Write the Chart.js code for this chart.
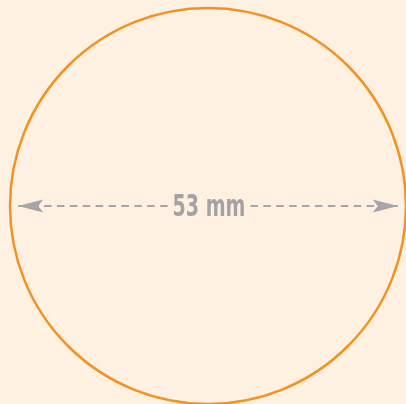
<!DOCTYPE html>
<html>
<head>
<meta charset="utf-8">
<script src="https://cdn.jsdelivr.net/npm/chart.js"></script>
<style>
  html, body { margin: 0; padding: 0; background: #fef1e2; }
  #c { display: block; }
</style>
</head>
<body>
<canvas id="c" width="406" height="404"></canvas>
<script>
  // values (mm)
  const diameters = [53];
  const sizeLabels = ["53 mm"];
  const arrowEnds = [-25.4, 25.4];

  // view window in mm
  const xRange = [-27.84, 26.5];
  const yRange = [-26.5, 27.57];

  const orange = "#f39220";
  const grey = "#a6a6a6";

  const diagramPlugin = {
    id: "diagram",
    beforeDraw(chart) {
      const ctx = chart.ctx;
      ctx.save();
      ctx.fillStyle = "#fef1e2";
      ctx.fillRect(0, 0, chart.width, chart.height);
      ctx.restore();
    },
    afterDatasetsDraw(chart) {
      const ctx = chart.ctx;
      const x = chart.scales.x;
      const y = chart.scales.y;
      const cx = x.getPixelForValue(0);
      const cy = y.getPixelForValue(0);
      const r = x.getPixelForValue(diameters[0] / 2) - cx;

      ctx.save();
      // circle
      ctx.strokeStyle = orange;
      ctx.lineWidth = 2.5;
      ctx.beginPath();
      ctx.arc(cx, cy, r, 0, Math.PI * 2);
      ctx.stroke();

      // arrow heads
      ctx.fillStyle = grey;
      arrowEnds.forEach((v) => {
        const tip = x.getPixelForValue(v);
        const dir = v < 0 ? 1 : -1;
        ctx.beginPath();
        ctx.moveTo(tip, cy);
        ctx.lineTo(tip + dir * 25, cy - 6.5);
        ctx.lineTo(tip + dir * 20, cy);
        ctx.lineTo(tip + dir * 25, cy + 6.5);
        ctx.closePath();
        ctx.fill();
      });

      // label, fitted to the box it fills in the picture
      const boxW = 73, boxH = 21.5;
      ctx.font = "bold 30px 'Liberation Sans Narrow', 'DejaVu Sans Condensed', sans-serif";
      const m = ctx.measureText(sizeLabels[0]);
      const h = m.actualBoundingBoxAscent + m.actualBoundingBoxDescent;
      const sx = boxW / m.width;
      const sy = boxH / h;
      const tx = cx + 1;
      ctx.fillStyle = "#fef1e2";
      ctx.fillRect(tx - boxW / 2 - 4, cy - 13, boxW + 6, 26);
      ctx.translate(tx, cy + boxH / 2 - 1);
      ctx.scale(sx, sy);
      ctx.fillStyle = "#a3a3a3";
      ctx.textAlign = "center";
      ctx.textBaseline = "alphabetic";
      ctx.fillText(sizeLabels[0], 0, -m.actualBoundingBoxDescent);
      ctx.restore();
    }
  };

  new Chart(document.getElementById("c").getContext("2d"), {
    type: "scatter",
    data: {
      datasets: [
        {
          data: arrowEnds.map((v) => ({ x: v, y: 0 })),
          showLine: true,
          borderColor: grey,
          borderWidth: 2,
          borderDash: [7.5, 5.4],
          pointRadius: 0
        }
      ]
    },
    options: {
      responsive: false,
      animation: false,
      layout: { padding: 0 },
      plugins: { legend: { display: false }, tooltip: { enabled: false } },
      scales: {
        x: { type: "linear", display: false, min: xRange[0], max: xRange[1] },
        y: { type: "linear", display: false, min: yRange[0], max: yRange[1] }
      }
    },
    plugins: [diagramPlugin]
  });
</script>
</body>
</html>
